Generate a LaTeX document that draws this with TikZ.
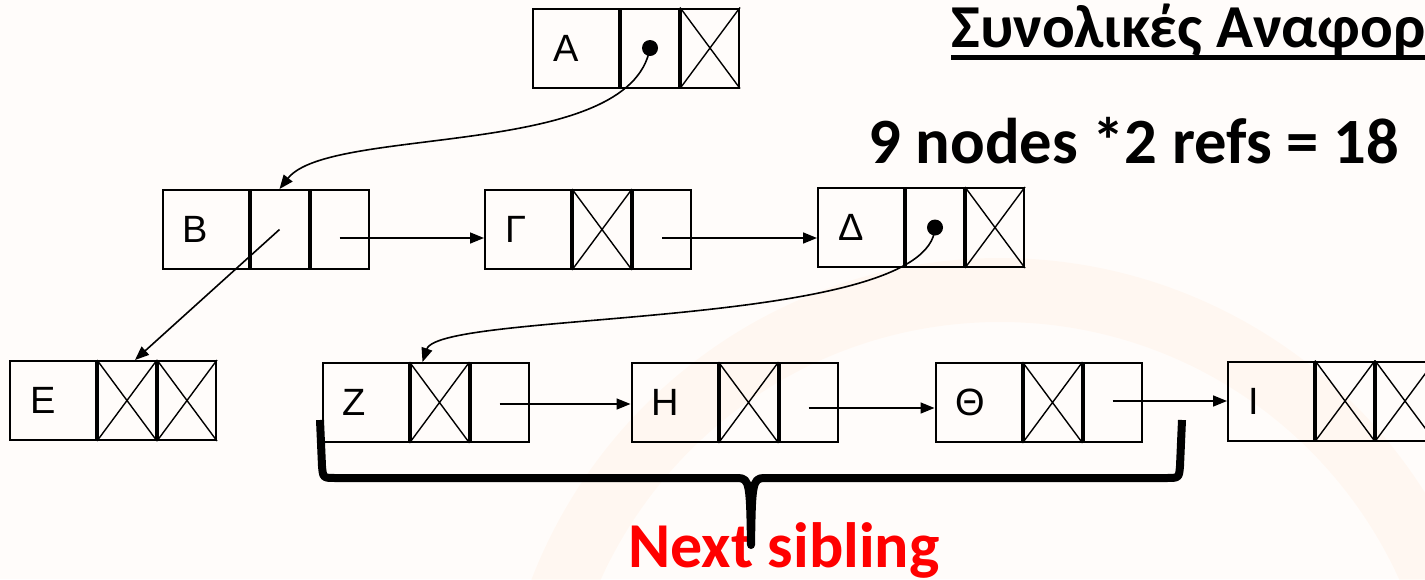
\documentclass[tikz,border=0pt]{standalone}
\usepackage{fontspec}
\setmainfont{Carlito}
\newfontfamily\boxfont{Liberation Sans}
\usetikzlibrary{positioning,arrows.meta}

\tikzset{
  cell/.style={draw, rectangle, line width=1pt, minimum height=39.5pt, inner ysep=0pt},
  keycell/.style={cell, text width=23pt, inner xsep=10pt, align=left, font=\boxfont\fontsize{19}{19}\selectfont},
  ptrcell/.style={cell, minimum width=29pt, inner xsep=0pt},
  nullx/.style={line width=0.7pt},
  link/.style={->, line width=0.8pt},
  refdot/.style={circle, fill, inner sep=0pt, minimum size=8pt},
  bigtext/.style={anchor=base west, inner sep=0pt, font=\bfseries\fontsize{#1}{#1}\selectfont},
}

\begin{document}
\begin{tikzpicture}[x=0.5pt, y=-0.5pt, >={Triangle[length=7pt, width=5.5pt]}]
    \useasboundingbox (0,0) rectangle (1425,579);
    \fill[white!98!orange] (0,0) rectangle (1425,579);
    % watermark
    \draw[orange, opacity=0.035, line width=32pt] (1000,760) circle[radius=235pt];

    % first level
    \node[keycell] (a1) at (576,48) {Α};
    \node[ptrcell, right=0pt of a1] (a2) {};
    \node[ptrcell, right=0pt of a2] (a3) {};

    % second level
    \node[keycell] (b1) at (205.5,229.5) {Β};
    \node[ptrcell, right=0pt of b1] (b2) {};
    \node[ptrcell, right=0pt of b2] (b3) {};

    \node[keycell] (g1) at (528,229.5) {Γ};
    \node[ptrcell, right=0pt of g1] (g2) {};
    \node[ptrcell, right=0pt of g2] (g3) {};

    \node[keycell] (d1) at (861,227.5) {Δ};
    \node[ptrcell, right=0pt of d1] (d2) {};
    \node[ptrcell, right=0pt of d2] (d3) {};

    % third level
    \node[keycell] (e1) at (53,400.5) {Ε};
    \node[ptrcell, right=0pt of e1] (e2) {};
    \node[ptrcell, right=0pt of e2] (e3) {};

    \node[keycell] (z1) at (365.5,402.5) {Ζ};
    \node[ptrcell, right=0pt of z1] (z2) {};
    \node[ptrcell, right=0pt of z2] (z3) {};

    \node[keycell] (h1) at (674.5,402.5) {Η};
    \node[ptrcell, right=0pt of h1] (h2) {};
    \node[ptrcell, right=0pt of h2] (h3) {};

    \node[keycell] (t1) at (978.5,402.5) {Θ};
    \node[ptrcell, right=0pt of t1] (t2) {};
    \node[ptrcell, right=0pt of t2] (t3) {};

    \node[keycell] (i1) at (1271,401) {Ι};
    \node[ptrcell, right=0pt of i1] (i2) {};
    \node[ptrcell, right=0pt of i2] (i3) {};

    % null pointers
    \draw[nullx] (a3.north west) -- (a3.south east) (a3.south west) -- (a3.north east);
    \draw[nullx] (g2.north west) -- (g2.south east) (g2.south west) -- (g2.north east);
    \draw[nullx] (d3.north west) -- (d3.south east) (d3.south west) -- (d3.north east);
    \draw[nullx] (e2.north west) -- (e2.south east) (e2.south west) -- (e2.north east);
    \draw[nullx] (e3.north west) -- (e3.south east) (e3.south west) -- (e3.north east);
    \draw[nullx] (z2.north west) -- (z2.south east) (z2.south west) -- (z2.north east);
    \draw[nullx] (h2.north west) -- (h2.south east) (h2.south west) -- (h2.north east);
    \draw[nullx] (t2.north west) -- (t2.south east) (t2.south west) -- (t2.north east);
    \draw[nullx] (i2.north west) -- (i2.south east) (i2.south west) -- (i2.north east);
    \draw[nullx] (i3.north west) -- (i3.south east) (i3.south west) -- (i3.north east);

    % first child links
    \node[refdot] (adot) at (a2.center) {};
    \node[refdot] (ddot) at (d2.center) {};
    \draw[link] (adot.center) .. controls (630,160) and (330,125) .. (b2.north);
    \draw[link] (b2.center) -- ([xshift=4pt]e2.north);
    \draw[link] (ddot.center) .. controls (930,330) and (440,310) .. ([xshift=-8.5pt]z2.north);

    % next sibling links
    \draw[link] ([yshift=-4.25pt]b3.center) -- ([yshift=-4.25pt]b3.center -| g1.west);
    \draw[link] ([yshift=-4.25pt]g3.center) -- ([yshift=-4.25pt]g3.center -| d1.west);
    \draw[link] ([yshift=-0.75pt]z3.center) -- ([yshift=-0.75pt]z3.center -| h1.west);
    \draw[link] ([yshift=-2.75pt]h3.center) -- ([yshift=-2.75pt]h3.center -| t1.west);
    \draw[link] ([yshift=0.75pt]t3.center) -- ([yshift=0.75pt]t3.center -| i1.west);

    % texts
    \node[bigtext=30.5] (title) at (951,47) {Συνολικές Αναφορές};
    \draw[line width=2.5pt] ([yshift=-5.25pt]title.base west) -- ([yshift=-5.25pt]title.base east);
    \node[bigtext=32.3] (refs) at (868,163) {9 nodes *2 refs = 18};
    \node[bigtext=32] (next) at (628,567) [text=red] {Next sibling};

    % brace
    \draw[line width=4pt, line join=round] (320,420) -- (322,466)
        .. controls (323,478) .. (336,478) -- (738,478)
        .. controls (750,478) and (750,486) .. (751,545)
        .. controls (752,486) and (752,478) .. (764,478) -- (1166,478)
        .. controls (1179,478) .. (1180,466) -- (1182,420);
\end{tikzpicture}
\end{document}
